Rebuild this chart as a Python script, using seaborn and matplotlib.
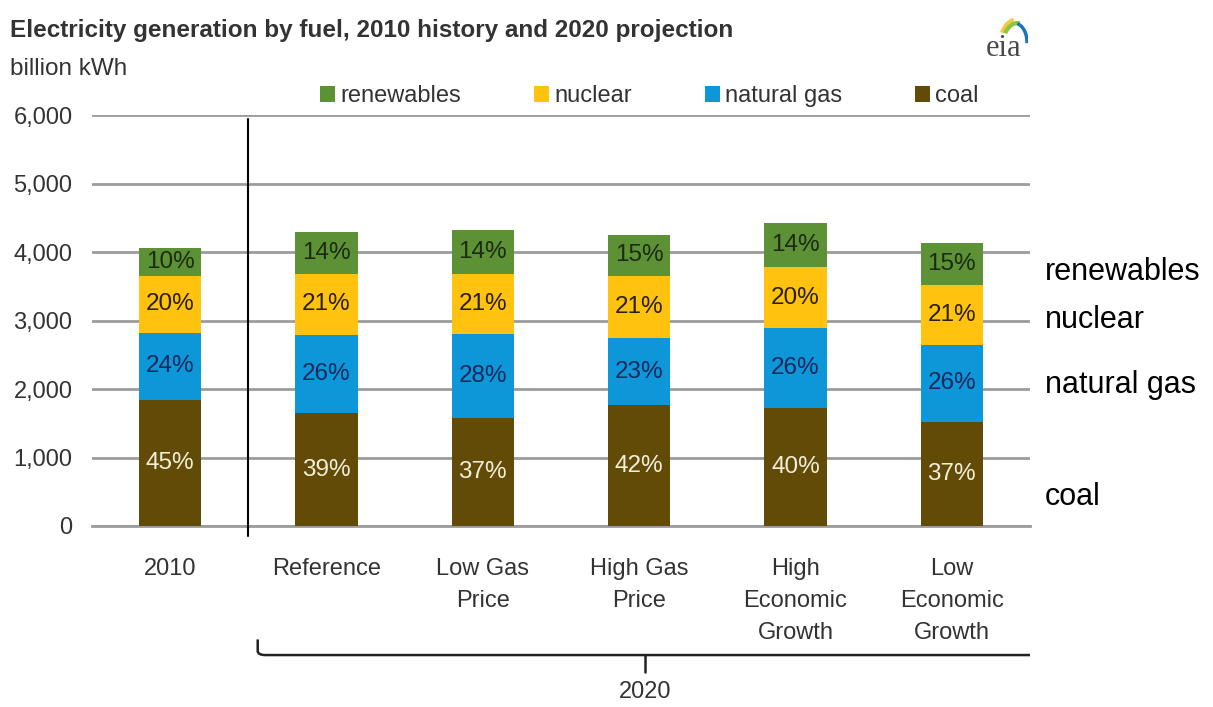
import numpy as np
import pandas as pd
import matplotlib
matplotlib.use("Agg")
import matplotlib.pyplot as plt
import seaborn as sns
from matplotlib.patches import Patch, Arc, PathPatch
from matplotlib.transforms import blended_transform_factory
from matplotlib.path import Path

# ---------------- data ----------------
scenarios = ["2010", "Reference", "Low Gas\nPrice", "High Gas\nPrice",
             "High\nEconomic\nGrowth", "Low\nEconomic\nGrowth"]
fuels = ["coal", "natural gas", "nuclear", "renewables"]
coal = [1840, 1645, 1570, 1765, 1720, 1525]
natural_gas = [980, 1145, 1240, 975, 1165, 1120]
nuclear = [830, 890, 875, 910, 900, 875]
renewables = [410, 610, 635, 600, 635, 610]
coal_pct = ["45%", "39%", "37%", "42%", "40%", "37%"]
gas_pct = ["24%", "26%", "28%", "23%", "26%", "26%"]
nuclear_pct = ["20%", "21%", "21%", "21%", "20%", "21%"]
renew_pct = ["10%", "14%", "14%", "15%", "14%", "15%"]
yticks = [0, 1000, 2000, 3000, 4000, 5000, 6000]
ytick_labels = ["0", "1,000", "2,000", "3,000", "4,000", "5,000", "6,000"]
legend_order = ["renewables", "nuclear", "natural gas", "coal"]
title = "Electricity generation by fuel, 2010 history and 2020 projection"
unit = "billion kWh"
group_label = "2020"

colors = {"coal": "#614B06", "natural gas": "#0E97D8",
          "nuclear": "#FFC30F", "renewables": "#5C9235"}
label_colors = {"coal": "#F4EEDA", "natural gas": "#17295C",
                "nuclear": "#2A1E05", "renewables": "#1C2A10"}

values = {"coal": coal, "natural gas": natural_gas,
          "nuclear": nuclear, "renewables": renewables}
pcts = {"coal": coal_pct, "natural gas": gas_pct,
        "nuclear": nuclear_pct, "renewables": renew_pct}

rows = []
for i, s in enumerate(scenarios):
    bottom = 0
    for f in fuels:
        v = values[f][i]
        rows.append({"scenario": s, "fuel": f, "value": v,
                     "bottom": bottom, "top": bottom + v, "pct": pcts[f][i]})
        bottom += v
df = pd.DataFrame(rows)

# ---------------- style ----------------
sns.set_style("white")
plt.rcParams["font.family"] = ["Liberation Sans", "DejaVu Sans"]

W, H = 1213, 707
fig = plt.figure(figsize=(W / 100, H / 100), dpi=100)
ax = fig.add_axes([92 / W, 1 - 526 / H, 938 / W, 411 / H])

# stacked bars: draw cumulative tops from the top layer down
for f in fuels[::-1]:
    sub = df[df["fuel"] == f]
    sns.barplot(data=sub, x="scenario", y="top", order=scenarios,
                color=colors[f], saturation=1, width=0.4, linewidth=0,
                errorbar=None, ax=ax, zorder=3)

for _, r in df.iterrows():
    i = scenarios.index(r["scenario"])
    ax.text(i, r["bottom"] + r["value"] / 2, r["pct"], ha="center",
            va="center", fontsize=17.5, color=label_colors[r["fuel"]], zorder=5)

ax.set_ylim(0, 6000)
ax.set_xlim(-0.5, len(scenarios) - 0.5)
ax.set_yticks(yticks)
ax.set_yticklabels(ytick_labels)
ax.set_xticks(range(len(scenarios)))
ax.set_xticklabels([""] * len(scenarios))
ax.set_xlabel("")
ax.set_ylabel("")
ax.set_axisbelow(True)
ax.yaxis.grid(True, color="#9C9C9C", linewidth=2)
ax.xaxis.grid(False)
for sp in ["left", "right", "top"]:
    ax.spines[sp].set_visible(False)
ax.spines["bottom"].set_color("#9C9C9C")
ax.spines["bottom"].set_linewidth(2)
ax.tick_params(axis="y", length=0, pad=14, labelsize=17, labelcolor="#333333")
ax.tick_params(axis="x", which="major", length=0)
ax.set_xticks(np.arange(-0.5, len(scenarios), 1.0), minor=True)
ax.tick_params(axis="x", which="minor", length=9, width=1.5, color="#9C9C9C",
               direction="out")

trans = blended_transform_factory(ax.transData, ax.transAxes)

# category labels (multi-line, wider line spacing)
for i, s in enumerate(scenarios):
    ax.text(i, -0.078, s, transform=trans, ha="center", va="top",
            fontsize=17, color="#333333", linespacing=1.6)

# separator between history and projections
ax.axvline(0.5, ymin=-0.025, ymax=0.99, color="black", linewidth=1.5,
           clip_on=False, zorder=4)

# bracket for 2020
xl, xr, xc = 0.56, 5.5, 3.04
yb, ytop, ytick_b = -0.314, -0.276, -0.356
verts = [(xl, ytop), (xl, yb + 0.01), (xl, yb), (xl + 0.05, yb), (xr, yb)]
codes = [Path.MOVETO, Path.LINETO, Path.CURVE3, Path.CURVE3, Path.LINETO]
ax.add_patch(PathPatch(Path(verts, codes), transform=trans, fill=False,
                       edgecolor="#222222", linewidth=1.8, clip_on=False))
ax.plot([xc, xc], [yb, ytick_b], transform=trans, color="#222222",
        linewidth=1.8, clip_on=False)
ax.text(xc, -0.405, group_label, transform=trans, ha="center", va="center",
        fontsize=17, color="#333333")

# legend
handles = [Patch(facecolor=colors[f], edgecolor="none") for f in legend_order]
fig.legend(handles, legend_order, loc="center left",
           bbox_to_anchor=(320 / W, 1 - 96 / H), ncol=4, frameon=False,
           fontsize=17, handlelength=0.64, handleheight=0.64,
           handletextpad=0.21, columnspacing=3.1, borderpad=0,
           borderaxespad=0, labelcolor="#333333")

# titles
fig.text(10 / W, 1 - 30 / H, title, fontsize=17.5, fontweight="bold",
         color="#333333", va="center", ha="left")
fig.text(10 / W, 1 - 69 / H, unit, fontsize=17.5, color="#333333",
         va="center", ha="left")

# right-hand labels
for lab, ypx in [("renewables", 272), ("nuclear", 320),
                 ("natural gas", 385), ("coal", 497)]:
    fig.text(1045 / W, 1 - ypx / H, lab, fontsize=22, color="black",
             va="center", ha="left")

# eia logo
fig.text(1004 / W, 1 - 48 / H, "eia", fontsize=22, color="#4A4A4A",
         ha="center", va="center", family=["Liberation Serif", "DejaVu Serif"])
lax = fig.add_axes([988 / W, 1 - 48 / H, 40 / W, 36 / H])
lax.set_xlim(0, 40)
lax.set_ylim(0, 36)
lax.axis("off")
lax.add_patch(Arc((30, 4), 36, 50, theta1=100, theta2=145, color="#F2C94C", lw=3))
lax.add_patch(Arc((30, 4), 30, 42, theta1=85, theta2=140, color="#8CC63F", lw=3))
lax.add_patch(Arc((26, 6), 26, 38, theta1=-5, theta2=80, color="#1B75BB", lw=2.5))

fig.savefig("out.png", dpi=100, facecolor="white")
